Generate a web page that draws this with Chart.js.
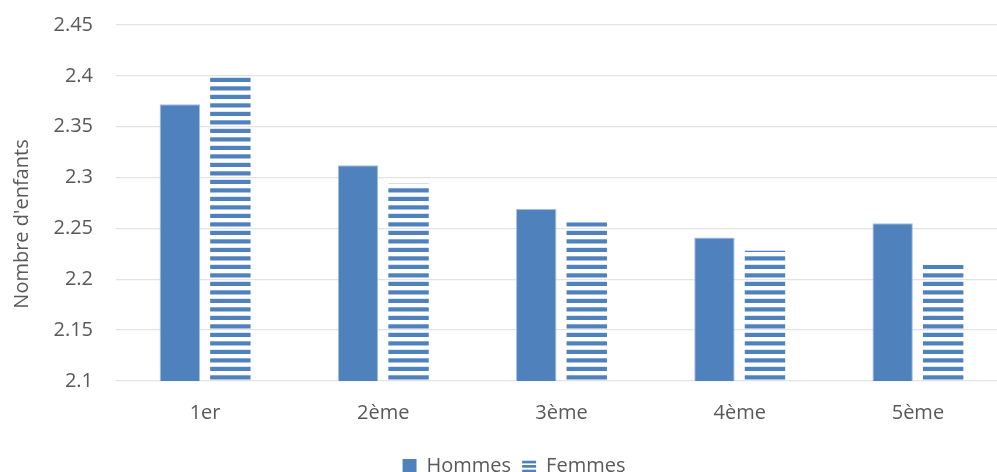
<!DOCTYPE html>
<html>
<head>
<meta charset="utf-8">
<script src="https://cdn.jsdelivr.net/npm/chart.js@4"></script>
<style>
  html, body { margin: 0; padding: 0; background: #fff; overflow: hidden; }
  #wrap { position: absolute; left: 0; top: 0; width: 1010px; height: 486px; }
</style>
</head>
<body>
<div id="wrap"><canvas id="chart"></canvas></div>
<script>
const categories = ['1er', '2ème', '3ème', '4ème', '5ème'];
const hommes = [2.372, 2.312, 2.269, 2.241, 2.255];
const femmes = [2.400, 2.294, 2.256, 2.228, 2.214];
const yTicks = [2.1, 2.15, 2.2, 2.25, 2.3, 2.35, 2.4, 2.45];
const yTitle = "Nombre d'enfants";

const BLUE = '#4F81BD';
const GREY_TEXT = '#595959';
const FONT = "'Open Sans', sans-serif";

// horizontal stripes, two per tile
const makeStripes = (tileH, stripes) => {
    const c = document.createElement('canvas');
    c.width = 4;
    c.height = tileH;
    const ctx = c.getContext('2d');
    ctx.fillStyle = BLUE;
    stripes.forEach(([y, h]) => ctx.fillRect(0, y, 4, h));
    return document.getElementById('chart').getContext('2d').createPattern(c, 'repeat');
};
const barStripes = makeStripes(17, [[1.3, 4.2], [9.8, 4.2]]);
const legendStripes = makeStripes(9, [[1.7, 2.7], [6.0, 2.7]]);

// y title drawn by hand so it can sit a bit lower than the plot centre
const yTitlePlugin = {
    id: 'yTitle',
    afterDraw(chart) {
        const {ctx, chartArea} = chart;
        ctx.save();
        ctx.translate(22, (chartArea.top + chartArea.bottom) / 2 + 21);
        ctx.rotate(-Math.PI / 2);
        ctx.font = '20px ' + FONT;
        ctx.fillStyle = GREY_TEXT;
        ctx.textAlign = 'center';
        ctx.textBaseline = 'middle';
        ctx.fillText(yTitle, 0, 0);
        ctx.restore();
    }
};

new Chart(document.getElementById('chart').getContext('2d'), {
    type: 'bar',
    data: {
        labels: categories,
        datasets: [{
            label: 'Hommes',
            data: hommes,
            backgroundColor: BLUE,
            borderColor: '#A6BEDF',
            borderWidth: 1,
            categoryPercentage: 0.567,
            barPercentage: 0.8
        }, {
            label: 'Femmes',
            data: femmes,
            backgroundColor: barStripes,
            borderWidth: 0,
            categoryPercentage: 0.567,
            barPercentage: 0.8
        }]
    },
    options: {
        responsive: true,
        maintainAspectRatio: false,
        animation: false,
        events: [],
        layout: {
            padding: { left: 21, right: 3, top: 25, bottom: 0 }
        },
        scales: {
            x: {
                grid: { display: false, drawTicks: false },
                border: { display: false },
                ticks: {
                    color: GREY_TEXT,
                    font: { family: FONT, size: 20, lineHeight: 0.7 },
                    padding: 25
                }
            },
            y: {
                min: 2.1,
                max: 2.45,
                afterFit(scale) {
                    scale.width = 95;
                    scale.paddingTop = 0;
                    scale.paddingBottom = 0;
                },
                afterBuildTicks(scale) {
                    scale.ticks = yTicks.map(v => ({ value: v }));
                },
                grid: { color: '#E3E3E3', lineWidth: 1.3, drawTicks: false },
                border: { display: false },
                ticks: {
                    color: GREY_TEXT,
                    font: { family: FONT, size: 20 },
                    padding: 23,
                    callback: v => String(+v.toFixed(2))
                }
            }
        },
        plugins: {
            tooltip: { enabled: false },
            legend: {
                position: 'bottom',
                labels: {
                    color: GREY_TEXT,
                    font: { family: FONT, size: 20 },
                    boxWidth: 14,
                    boxHeight: 14,
                    padding: 11,
                    generateLabels(chart) {
                        return chart.data.datasets.map((ds, i) => ({
                            text: ds.label,
                            fillStyle: i === 0 ? BLUE : legendStripes,
                            strokeStyle: 'rgba(0,0,0,0)',
                            lineWidth: 0,
                            fontColor: GREY_TEXT,
                            datasetIndex: i
                        }));
                    }
                }
            }
        }
    },
    plugins: [yTitlePlugin]
});
</script>
</body>
</html>
